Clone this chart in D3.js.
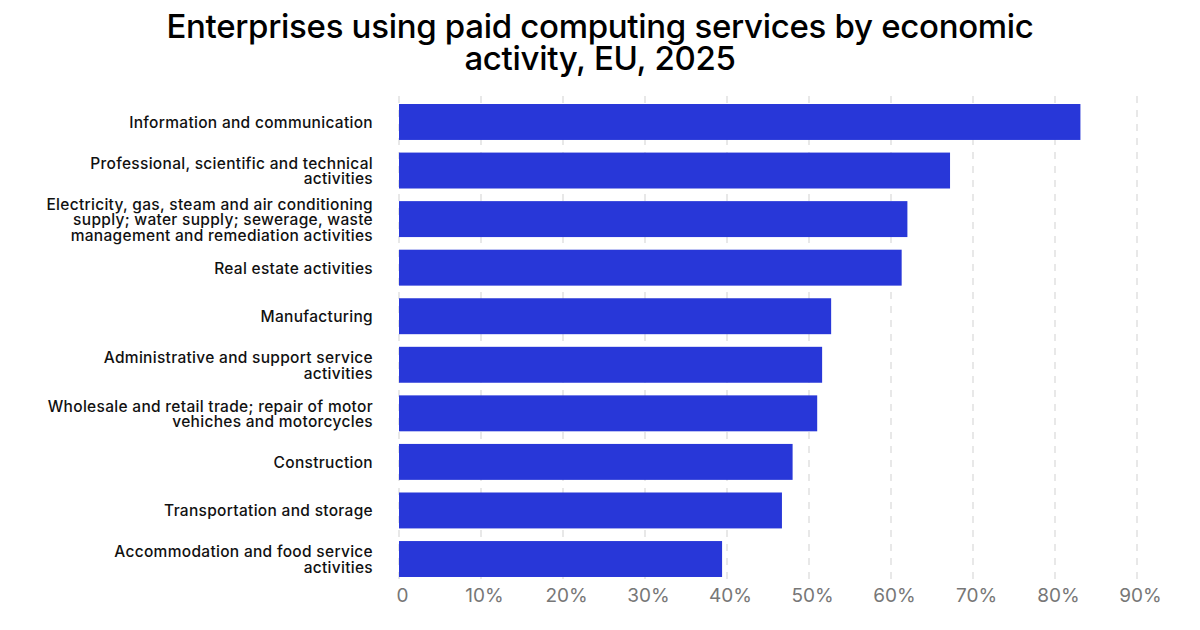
<!DOCTYPE html>
<html>
<head>
<meta charset="utf-8">
<script src="https://cdn.jsdelivr.net/npm/d3@7"></script>
<style>
  body { margin: 0; background: #fff; }
  text { font-family: Inter, "Noto Sans", sans-serif; }
</style>
</head>
<body>
<svg width="1200" height="630"></svg>
<script>
var categories = [
    ["Information and communication"],
    ["Professional, scientific and technical", "activities"],
    ["Electricity, gas, steam and air conditioning", "supply; water supply; sewerage, waste", "management and remediation activities"],
    ["Real estate activities"],
    ["Manufacturing"],
    ["Administrative and support service", "activities"],
    ["Wholesale and retail trade; repair of motor", "vehiches and motorcycles"],
    ["Construction"],
    ["Transportation and storage"],
    ["Accommodation and food service", "activities"]
];
var values = [83.1, 67.2, 62.0, 61.3, 52.7, 51.6, 51.0, 48.0, 46.7, 39.4];
var ticks = [0, 10, 20, 30, 40, 50, 60, 70, 80, 90];
var titleLines = ["Enterprises using paid computing services by economic", "activity, EU, 2025"];

var svg = d3.select("svg"),
    width = +svg.attr("width"),
    height = +svg.attr("height");

var x = d3.scaleLinear()
    .domain([0, 90])
    .range([399, 1137]);

var y = d3.scaleBand()
    .domain(d3.range(values.length))
    .range([97.7, 583.3])
    .paddingInner(0.26)
    .paddingOuter(0.13);

// title
svg.append("text")
    .attr("x", width / 2)
    .attr("y", 38)
    .attr("text-anchor", "middle")
    .style("font-size", "33px")
    .style("font-weight", 500)
    .style("letter-spacing", "-0.3px")
    .attr("fill", "#000")
    .selectAll("tspan")
    .data(titleLines)
    .enter().append("tspan")
    .attr("x", width / 2)
    .attr("dy", function(d, i) { return i ? 32 : 0; })
    .text(function(d) { return d; });

// dashed grid
svg.append("g")
    .selectAll("line")
    .data(ticks)
    .enter().append("line")
    .attr("x1", x).attr("x2", x)
    .attr("y1", 96).attr("y2", 582)
    .attr("stroke", "#e8e8e8")
    .attr("stroke-width", 2)
    .attr("stroke-dasharray", "7,7");

// bars
svg.append("g")
    .selectAll("rect")
    .data(values)
    .enter().append("rect")
    .attr("x", x(0))
    .attr("y", function(d, i) { return y(i); })
    .attr("width", function(d) { return x(d) - x(0); })
    .attr("height", y.bandwidth())
    .attr("fill", "#2837d8");

// category labels
var lineH = 15.5;
svg.append("g")
    .selectAll("text")
    .data(categories)
    .enter().append("text")
    .attr("text-anchor", "end")
    .style("font-size", "15.5px")
    .style("font-weight", 500)
    .style("letter-spacing", "0.3px")
    .attr("fill", "#111")
    .attr("transform", function(d, i) {
        var cy = y(i) + y.bandwidth() / 2 - (d.length - 1) * lineH / 2 + 6;
        return "translate(373," + cy + ")";
    })
    .selectAll("tspan")
    .data(function(d) { return d; })
    .enter().append("tspan")
    .attr("x", 0)
    .attr("y", function(d, i) { return i * lineH; })
    .text(function(d) { return d; });

// x axis
var xAxis = svg.append("g")
    .attr("transform", "translate(3,582)")
    .call(d3.axisBottom(x)
        .tickValues(ticks)
        .tickSize(0)
        .tickPadding(7)
        .tickFormat(function(d) { return d ? d + "%" : "0"; }));

xAxis.select(".domain").remove();
xAxis.selectAll("text")
    .style("font-size", "19px")
    .style("font-family", "Inter, sans-serif")
    .attr("fill", "#777");
</script>
</body>
</html>
